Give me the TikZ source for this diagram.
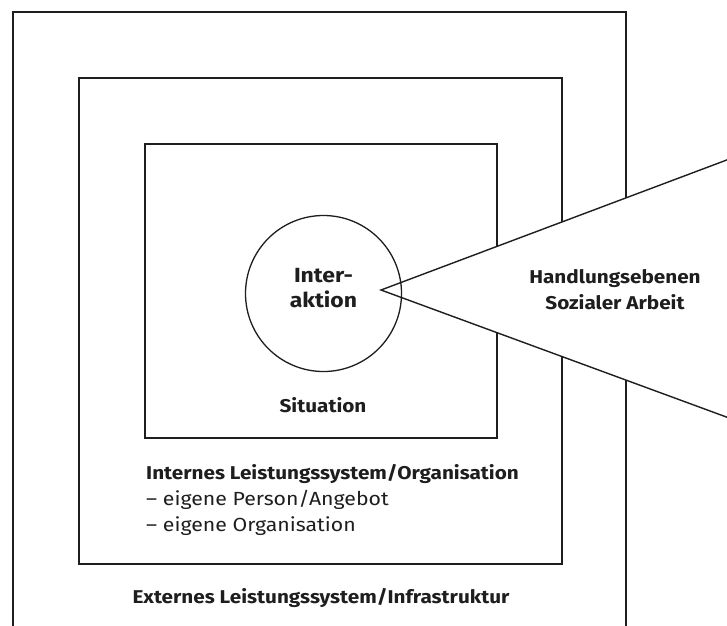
\documentclass[tikz,border=0pt]{standalone}
\usepackage{fontspec}
\setmainfont{Fira Sans}[FakeStretch=1.12]
\definecolor{ink}{HTML}{1E1E1E}
\begin{document}
\begin{tikzpicture}[x=1pt,y=-1pt,
  frame/.style={draw=ink,line width=1.4pt},
  big/.style={text=ink,font=\fontsize{20.5}{26}\selectfont\bfseries,inner sep=0pt,anchor=base},
  lab/.style={text=ink,font=\fontsize{18.5}{24}\selectfont\bfseries,inner sep=0pt,anchor=base},
  body/.style={text=ink,font=\fontsize{19}{24}\selectfont,inner sep=0pt,anchor=base west}]
\useasboundingbox (0,0) rectangle (727,625);
\clip (0,0) rectangle (727,625);
\fill[white] (0,0) rectangle (727,625);
% outer frame, open at the bottom
\draw[frame] (13,640) -- (13,12) -- (626,12) -- (626,640);
% middle frame
\draw[frame] (79,78) rectangle (562,564);
% inner frame
\draw[frame] (145,144) rectangle (497,438);
% callout wedge
\coordinate (apex) at (381,290);
\coordinate (up) at (740,155);
\coordinate (lo) at (740,422);
\fill[white] (apex) -- (up) -- (lo) -- cycle;
\draw[frame] (up) -- (apex) -- (lo);
% circle
\node[draw=ink,line width=1.3pt,circle,minimum size=156pt,inner sep=0pt] (inter) at (323.5,293.5) {};
\node[big] (inter1) at (323.5,282) {Inter-};
\node[big] (inter2) at (323.5,307) {aktion};
\node[lab] (handl1) at (615,283) {Handlungsebenen};
\node[lab] (handl2) at (615,309) {Sozialer Arbeit};
\node[lab] (sit) at (323,412) {Situation};
\node[lab,anchor=base west] (intern1) at (146,479) {Internes Leistungssystem/Organisation};
\node[body] (intern2) at (146,505) {– eigene Person/Angebot};
\node[body] (intern3) at (146,531) {– eigene Organisation};
\node[lab] (extern) at (321,603) {Externes Leistungssystem/Infrastruktur};
\end{tikzpicture}
\end{document}
